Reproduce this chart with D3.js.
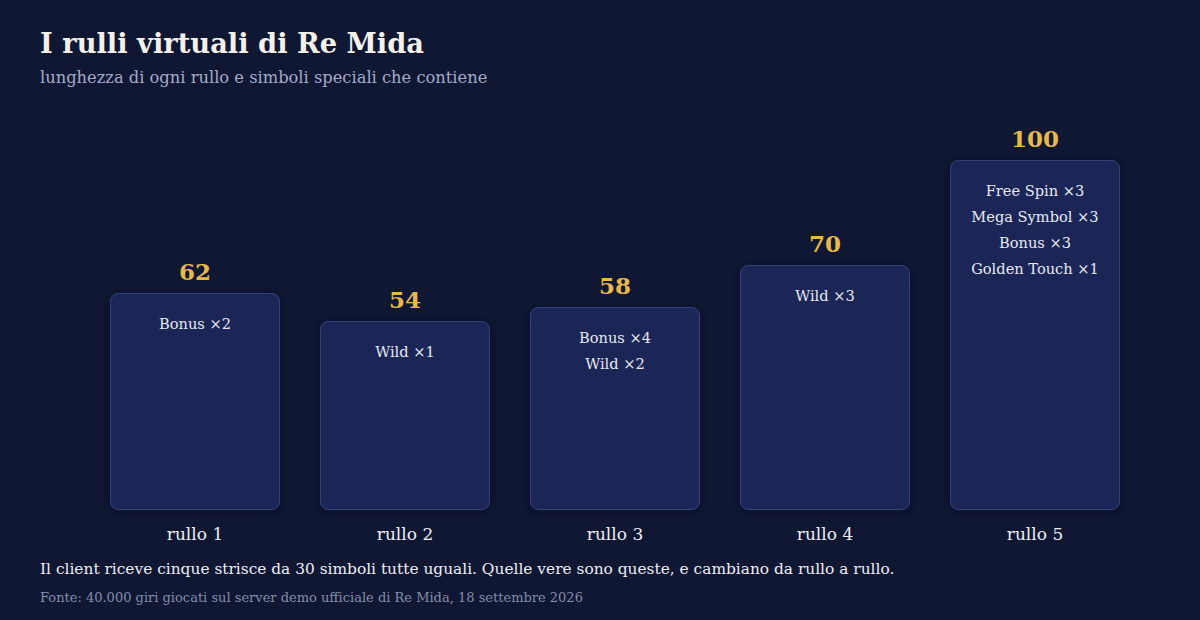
<!DOCTYPE html>
<html>
<head>
<meta charset="utf-8">
<script src="https://cdn.jsdelivr.net/npm/d3@7"></script>
<style>
  html, body { margin: 0; padding: 0; background: #0f1733; }
  svg { display: block; font-family: Georgia, "DejaVu Serif", serif; }
</style>
</head>
<body>
<svg id="chart" width="1200" height="620"></svg>
<script>
  // data
  const reels = ['rullo 1', 'rullo 2', 'rullo 3', 'rullo 4', 'rullo 5'];
  const lengths = [62, 54, 58, 70, 100];
  const specials = [
    ['Bonus ×2'],
    ['Wild ×1'],
    ['Bonus ×4', 'Wild ×2'],
    ['Wild ×3'],
    ['Free Spin ×3', 'Mega Symbol ×3', 'Bonus ×3', 'Golden Touch ×1']
  ];

  const W = 1200, H = 620;
  const FONT = 'Georgia, "DejaVu Serif", serif';
  const svg = d3.select('#chart');

  svg.append('rect').attr('width', W).attr('height', H).attr('fill', '#0f1733');

  const defs = svg.append('defs');
  const f = defs.append('filter').attr('id', 'shadow')
    .attr('x', '-20%').attr('y', '-20%').attr('width', '140%').attr('height', '140%');
  f.append('feDropShadow').attr('dx', 0).attr('dy', 2).attr('stdDeviation', 6)
    .attr('flood-color', '#050a1c').attr('flood-opacity', 0.6);

  const x = d3.scaleBand().domain(reels).range([90, 1140])
    .paddingInner(40 / 210).paddingOuter(20 / 210);
  const y = d3.scaleLinear().domain([0, 100]).range([510, 160]);

  const data = reels.map((r, i) => ({ reel: r, len: lengths[i], syms: specials[i] }));

  const g = svg.append('g');
  const bar = g.selectAll('g.bar').data(data).join('g').attr('class', 'bar');

  bar.append('rect')
    .attr('x', d => x(d.reel) + 0.5)
    .attr('y', d => y(d.len) + 0.5)
    .attr('width', x.bandwidth() - 1)
    .attr('height', d => y(0) - y(d.len) - 1)
    .attr('rx', 8)
    .attr('fill', '#1d2857')
    .attr('stroke', '#34427a')
    .attr('stroke-width', 1)
    .attr('filter', 'url(#shadow)');

  bar.append('text')
    .attr('x', d => x(d.reel) + x.bandwidth() / 2)
    .attr('y', d => y(d.len) - 13)
    .attr('text-anchor', 'middle')
    .attr('fill', '#e8b84a')
    .attr('font-weight', 'bold')
    .attr('font-size', 23)
    .text(d => d.len);

  bar.each(function(d) {
    d3.select(this).selectAll('text.sym').data(d.syms).join('text')
      .attr('class', 'sym')
      .attr('x', x(d.reel) + x.bandwidth() / 2)
      .attr('y', (s, j) => y(d.len) + 36 + j * 26)
      .attr('text-anchor', 'middle')
      .attr('fill', '#e6e8f2')
      .attr('font-size', 14.6)
      .text(s => s);
  });

  // category axis
  const axis = d3.axisBottom(x).tickSize(0).tickPadding(0);
  const ax = svg.append('g').attr('transform', 'translate(0,528)').call(axis);
  ax.attr('font-family', null);
  ax.select('.domain').remove();
  ax.selectAll('text')
    .attr('dy', '0.71em')
    .style('font-family', FONT)
    .style('font-size', '17px')
    .attr('fill', '#eceef5');

  // titles and notes
  svg.append('text').attr('x', 40).attr('y', 53)
    .attr('fill', '#f3f1ea').attr('font-weight', 'bold').attr('font-size', 27.3)
    .text('I rulli virtuali di Re Mida');
  svg.append('text').attr('x', 40).attr('y', 83)
    .attr('fill', '#a4abc8').attr('font-size', 16.3)
    .text('lunghezza di ogni rullo e simboli speciali che contiene');
  svg.append('text').attr('x', 40).attr('y', 574)
    .attr('fill', '#eceef5').attr('font-size', 15.4)
    .text('Il client riceve cinque strisce da 30 simboli tutte uguali. Quelle vere sono queste, e cambiano da rullo a rullo.');
  svg.append('text').attr('x', 40).attr('y', 602)
    .attr('fill', '#858daa').attr('font-size', 13)
    .text('Fonte: 40.000 giri giocati sul server demo ufficiale di Re Mida, 18 settembre 2026');
</script>
</body>
</html>
